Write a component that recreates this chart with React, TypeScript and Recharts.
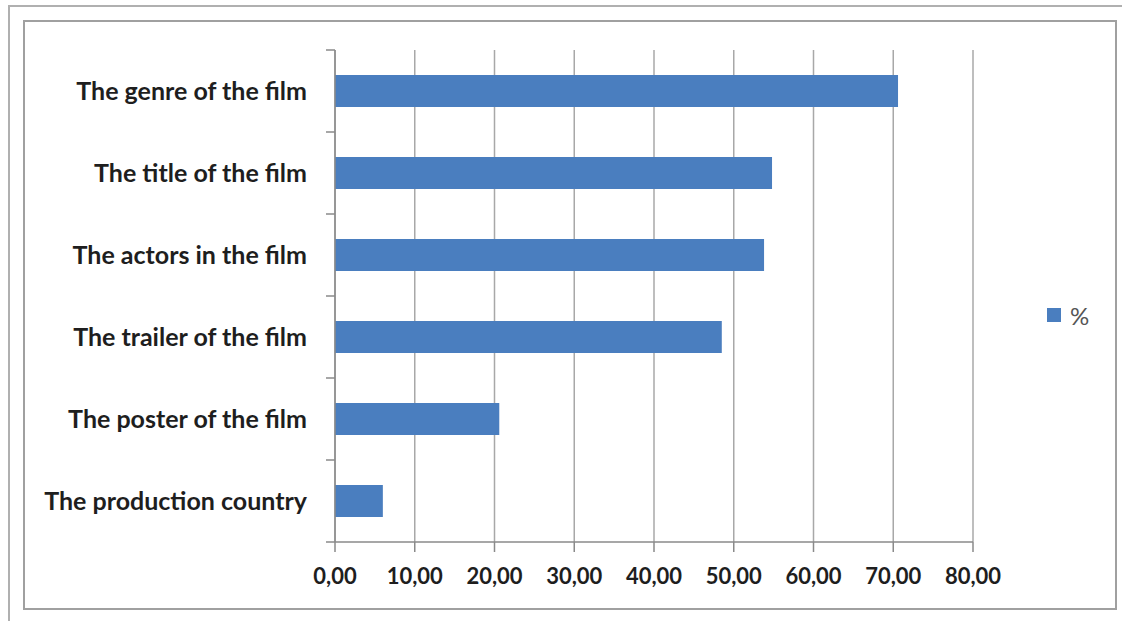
import React from 'react';
import { BarChart, Bar, XAxis, YAxis, CartesianGrid, Legend } from 'recharts';

const categories = [
  'The genre of the film',
  'The title of the film',
  'The actors in the film',
  'The trailer of the film',
  'The poster of the film',
  'The production country',
];
const percentValues = [70.6, 54.8, 53.8, 48.5, 20.6, 6.0];
const xTicks = [0, 10, 20, 30, 40, 50, 60, 70, 80];
const seriesName = '%';

const data = categories.map((name, i) => ({ name, value: percentValues[i] }));

const W = 1122;
const H = 621;
const MARGIN = { top: 50, right: 149, bottom: 0, left: 0 };
const X_AXIS_H = 79;
const Y_AXIS_W = 335;
const BAND = (H - MARGIN.top - MARGIN.bottom - X_AXIS_H) / categories.length;
const FONT = 'Lato, "Open Sans", sans-serif';
const BLUE = '#4A7EBF';
const GRID = '#a8a8a8';

const fmt = (v: number) => v.toFixed(2).replace('.', ',');

const YTick = (props: any) => {
  const { x, y, payload, index } = props;
  const ax = x;
  return (
    <g>
      <line x1={ax - 9} x2={ax} y1={y - BAND / 2} y2={y - BAND / 2} stroke="#8a8a8a" strokeWidth={1.5} />
      {index === categories.length - 1 && (
        <line x1={ax - 9} x2={ax} y1={y + BAND / 2} y2={y + BAND / 2} stroke="#8a8a8a" strokeWidth={1.5} />
      )}
      <text
        x={ax - 28}
        y={y}
        dy="0.36em"
        textAnchor="end"
        fontFamily={FONT}
        fontWeight={700}
        fontSize={25}
        fill="#1e1e1e"
      >
        {payload.value}
      </text>
    </g>
  );
};

const LegendContent = () => (
  <div style={{ display: 'flex', alignItems: 'center', fontFamily: FONT, width: 70, height: 30 }}>
    <div style={{ width: 14, height: 14, background: BLUE, marginRight: 9 }} />
    <span style={{ fontSize: 24, color: '#555' }}>{seriesName}</span>
  </div>
);

export default function App() {
  return (
    <div style={{ position: 'absolute', left: 0, top: 0, width: W, height: H, background: '#fff', overflow: 'hidden' }}>
      <div style={{ position: 'absolute', left: 8, top: 5, width: W, height: H, borderLeft: '2px solid #b0b0b0', borderTop: '2px solid #b0b0b0' }} />
      <div style={{ position: 'absolute', left: 23, top: 20, width: 1117 - 23, height: 610 - 20, border: '2px solid #a0a0a0', boxSizing: 'border-box', background: '#fff' }} />
      <div style={{ position: 'absolute', left: 0, top: 0 }}>
        <BarChart width={W} height={H} data={data} layout="vertical" margin={MARGIN} barCategoryGap="30.5%">
          <CartesianGrid horizontal={false} vertical={true} stroke={GRID} strokeWidth={1.5} />
          <XAxis
            type="number"
            domain={[0, 80]}
            ticks={xTicks}
            tickFormatter={fmt}
            height={X_AXIS_H}
            tickSize={10}
            tickMargin={16}
            axisLine={{ stroke: '#8a8a8a', strokeWidth: 1.5 }}
            tickLine={{ stroke: '#8a8a8a', strokeWidth: 1.5 }}
            tick={{ fontFamily: FONT, fontWeight: 700, fontSize: 22, fill: '#1e1e1e' }}
            interval={0}
          />
          <YAxis
            type="category"
            dataKey="name"
            width={Y_AXIS_W}
            tickLine={false}
            tickSize={0}
            tickMargin={0}
            axisLine={{ stroke: '#8a8a8a', strokeWidth: 1.5 }}
            tick={<YTick />}
            interval={0}
          />
          <Legend
            content={<LegendContent />}
            wrapperStyle={{ position: 'absolute', left: 1047, top: 300, width: 0, height: 0, overflow: 'visible' }}
          />
          <Bar dataKey="value" name={seriesName} fill={BLUE} isAnimationActive={false} />
        </BarChart>
      </div>
    </div>
  );
}
